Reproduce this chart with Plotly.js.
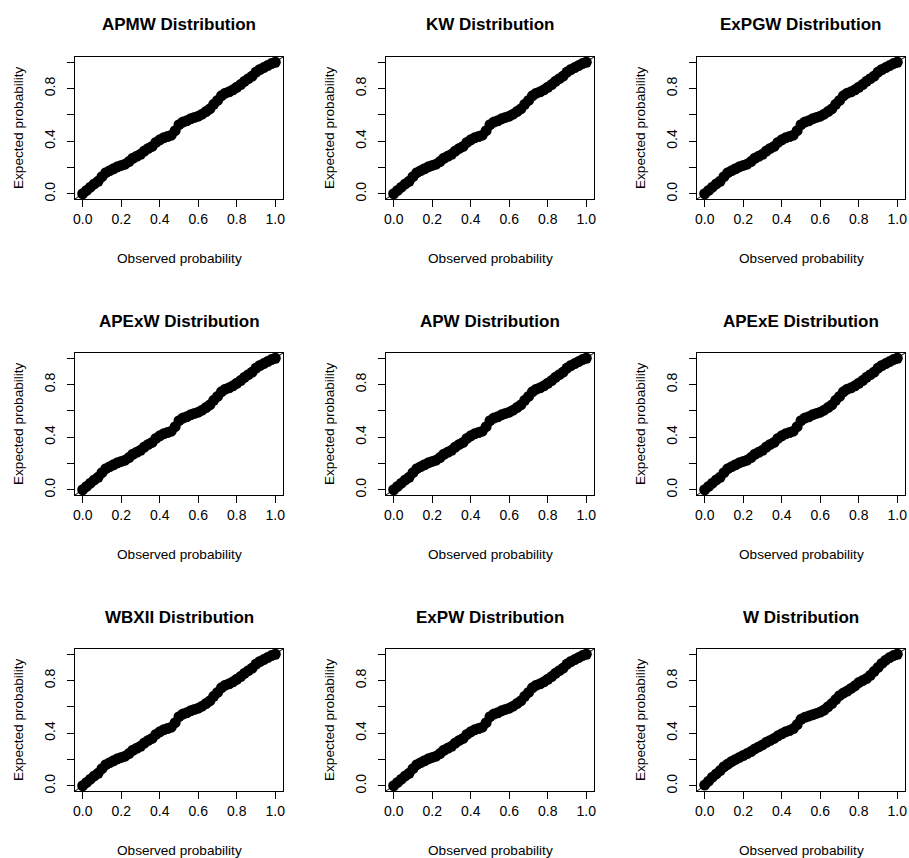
<!DOCTYPE html>
<html><head><meta charset="utf-8">
<script src="https://cdn.plot.ly/plotly-3.0.1.min.js"></script>
<style>html,body{margin:0;padding:0;background:#fff}#chart{width:909px;height:858px}</style>
</head><body><div id="chart"></div>
<script>
const panelTitles = ["APMW Distribution","KW Distribution","ExPGW Distribution",
  "APExW Distribution","APW Distribution","APExE Distribution",
  "WBXII Distribution","ExPW Distribution","W Distribution"];
const xLabel = "Observed probability";
const yLabel = "Expected probability";

const observed = [0.00,0.02,0.04,0.06,0.08,0.10,0.12,0.14,0.16,0.18,0.20,0.22,0.24,0.26,0.28,0.30,0.32,0.34,0.36,0.38,0.40,0.42,0.44,0.46,0.48,0.50,0.52,0.54,0.56,0.58,0.60,0.62,0.64,0.66,0.68,0.70,0.72,0.74,0.76,0.78,0.80,0.82,0.84,0.86,0.88,0.90,0.92,0.94,0.96,0.98,1.00];

const expectedFitted = [0.00,0.025,0.05,0.075,0.095,0.13,0.16,0.175,0.19,0.205,0.215,0.225,0.245,0.27,0.285,0.30,0.325,0.345,0.36,0.39,0.41,0.425,0.435,0.445,0.48,0.525,0.545,0.555,0.57,0.58,0.59,0.605,0.625,0.645,0.68,0.71,0.745,0.765,0.775,0.79,0.81,0.83,0.855,0.875,0.895,0.925,0.945,0.96,0.975,0.99,1.00];

const expectedW = [0.005,0.035,0.065,0.09,0.115,0.145,0.165,0.185,0.20,0.215,0.23,0.245,0.26,0.28,0.295,0.31,0.33,0.345,0.36,0.38,0.395,0.41,0.42,0.435,0.465,0.505,0.52,0.53,0.54,0.55,0.56,0.575,0.60,0.625,0.655,0.685,0.705,0.72,0.74,0.76,0.785,0.80,0.815,0.84,0.87,0.90,0.93,0.955,0.975,0.99,1.00];

const panelExpected = [expectedFitted,expectedFitted,expectedFitted,expectedFitted,expectedFitted,expectedFitted,expectedFitted,expectedFitted,expectedW];

const refLine = [-0.2, 1.2];
const tickVals = [0,0.2,0.4,0.6,0.8,1.0];
const xTickText = ["0.0","0.2","0.4","0.6","0.8","1.0"];
const yTickText = ["0.0","","0.4","","0.8",""];

const W = 909, H = 858;
const colLeft = [75,386,697], boxW = 208;
const rowTop = [57,353,649], boxH = 142;
const FONT = "Liberation Sans, Arial, Helvetica, sans-serif";

const traces = [];
const layout = {
  width: W, height: H, margin:{l:0,r:0,t:0,b:0},
  paper_bgcolor:"#fff", plot_bgcolor:"#fff", showlegend:false,
  font:{family:FONT,color:"#000",size:12},
  annotations:[]
};

for (let i=0;i<9;i++){
  const r = Math.floor(i/3), c = i%3;
  const n = i===0 ? "" : String(i+1);
  const xa = "x"+n, ya = "y"+n;
  const left = colLeft[c], top = rowTop[r], bottom = top+boxH;
  const xd = [left/W,(left+boxW)/W];
  const yd = [(H-bottom)/H,(H-top)/H];
  const axCommon = {range:[-0.04,1.04], showgrid:false, zeroline:false, showline:true, mirror:true,
    linecolor:"#000", linewidth:1, ticks:"outside", ticklen:7, tickwidth:1, tickcolor:"#000",
    tickvals:tickVals, tickfont:{size:14,family:FONT,color:"#000"}, fixedrange:true};
  layout["xaxis"+n] = Object.assign({}, axCommon, {domain:xd, anchor:ya, ticktext:xTickText, tickangle:0, ticklabelstandoff:0});
  layout["yaxis"+n] = Object.assign({}, axCommon, {domain:yd, anchor:xa, ticktext:yTickText, tickangle:-90, ticklabelstandoff:6});

  traces.push({type:"scatter", mode:"markers", x:observed, y:panelExpected[i], xaxis:xa, yaxis:ya,
    marker:{color:"#000", size:11, line:{width:0}}, hoverinfo:"skip"});
  traces.push({type:"scatter", mode:"lines", x:refLine, y:refLine, xaxis:xa, yaxis:ya,
    line:{color:"#000", width:1}, hoverinfo:"skip"});

  const cx = (left+boxW/2)/W;
  layout.annotations.push({text:"<b>"+panelTitles[i]+"</b>", xref:"paper", yref:"paper",
    x:cx, y:(H-(top-32))/H, xanchor:"center", yanchor:"middle", showarrow:false,
    font:{size:17,family:FONT,color:"#000"}});
  layout.annotations.push({text:xLabel, xref:"paper", yref:"paper",
    x:cx, y:(H-(bottom+59))/H, xanchor:"center", yanchor:"middle", showarrow:false,
    font:{size:13.6,family:FONT,color:"#000"}});
  layout.annotations.push({text:yLabel, xref:"paper", yref:"paper", textangle:-90,
    x:(left-57)/W, y:(H-(top+boxH/2))/H, xanchor:"center", yanchor:"middle", showarrow:false,
    font:{size:13.6,family:FONT,color:"#000"}});
}

Plotly.newPlot("chart", traces, layout, {displayModeBar:false, staticPlot:true});
</script>
</body></html>
